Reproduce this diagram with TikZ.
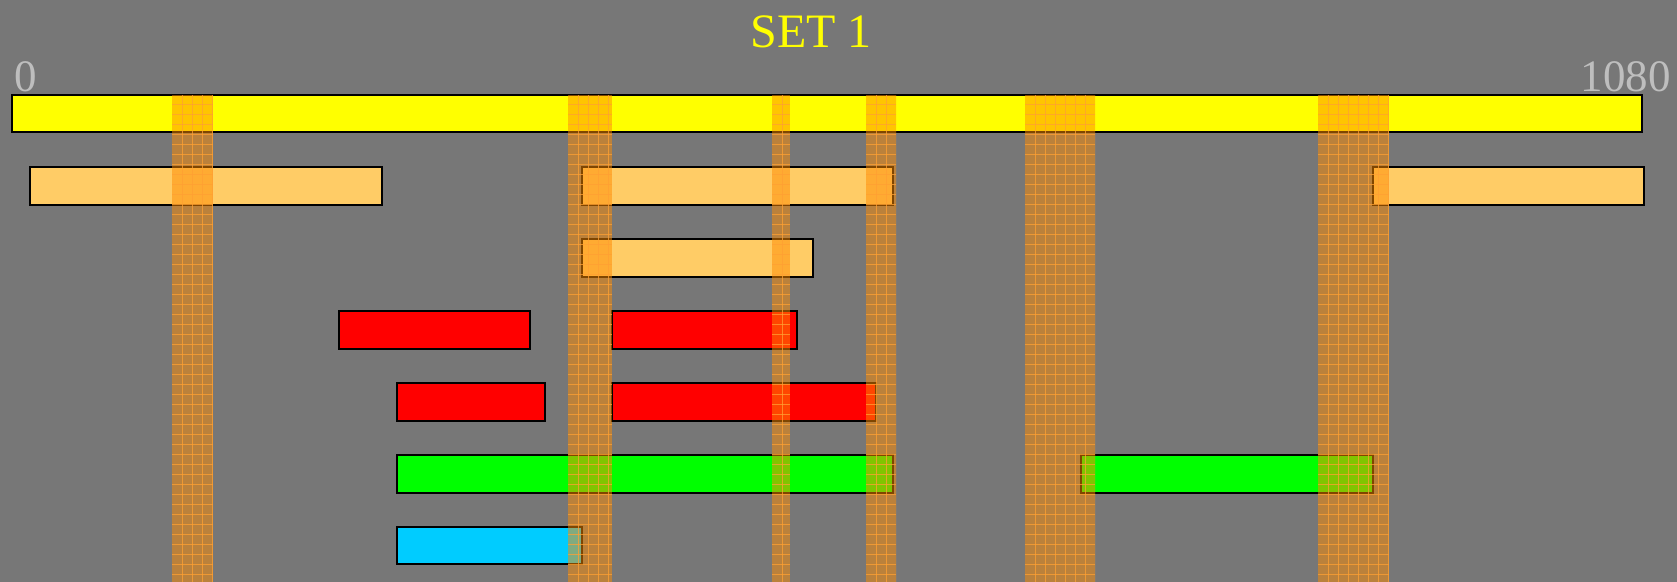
\documentclass[tikz,border=0pt]{standalone}
\usepackage{fontspec}
\setmainfont{Liberation Serif}
\usepackage{tikz}

\definecolor{bggray}{RGB}{119,119,119}
\definecolor{tickgray}{RGB}{190,190,190}
\definecolor{fullyellow}{RGB}{255,255,0}
\definecolor{paleorange}{RGB}{255,204,102}
\definecolor{skyblue}{RGB}{0,204,255}
\definecolor{bandorange}{RGB}{255,140,0}
\definecolor{bandline}{RGB}{255,160,50}

\tikzset{
  bar/.style={draw=black, line width=0.9pt},
  band/.style={fill=bandorange, fill opacity=0.5},
  bandgrid/.style={draw=bandline, line width=0.5pt, draw opacity=0.75},
  ticklabel/.style={text=tickgray, font=\fontsize{22.5}{22.5}\selectfont, inner sep=0pt}
}

\begin{document}
\begin{tikzpicture}[x=0.5pt, y=-0.5pt]
    \fill[bggray] (0,0) rectangle (1677,582);
    \useasboundingbox (0,0) rectangle (1677,582);

    \node[text=fullyellow, font=\fontsize{24}{24}\selectfont, inner sep=0pt, anchor=base] (title) at (811,48) {SET 1};
    \node[ticklabel, anchor=base west] (start) at (14,92) {0};
    \node[ticklabel, anchor=base east] (end) at (1671,92) {1080};

    \draw[bar, fill=fullyellow] (12,95) rectangle (1642,132);

    \draw[bar, fill=paleorange] (30,167) rectangle (382,205);
    \draw[bar, fill=paleorange] (582,167) rectangle (893,205);
    \draw[bar, fill=paleorange] (1373,167) rectangle (1644,205);

    \draw[bar, fill=paleorange] (582,239) rectangle (813,277);

    \draw[bar, fill=red] (339,311) rectangle (530,349);
    \draw[bar, fill=red] (612,311) rectangle (797,349);

    \draw[bar, fill=red] (397,383) rectangle (545,421);
    \draw[bar, fill=red] (612,383) rectangle (876,421);

    \draw[bar, fill=green] (397,455) rectangle (893,493);
    \draw[bar, fill=green] (1081,455) rectangle (1373,493);

    \draw[bar, fill=skyblue] (397,527) rectangle (582,564);

    \foreach \a/\b in {172/213, 568/612, 772/790, 866/896, 1025/1095, 1318/1389} {
        \fill[band] (\a,95) rectangle (\b,582);
        \begin{scope}
            \clip (\a,95) rectangle (\b,582);
            \foreach \x in {10,20,...,70}
                \draw[bandgrid] (\a+\x,95) -- (\a+\x,582);
            \foreach \y in {105,115,...,575}
                \draw[bandgrid] (\a,\y) -- (\b,\y);
        \end{scope}
    }
\end{tikzpicture}
\end{document}
